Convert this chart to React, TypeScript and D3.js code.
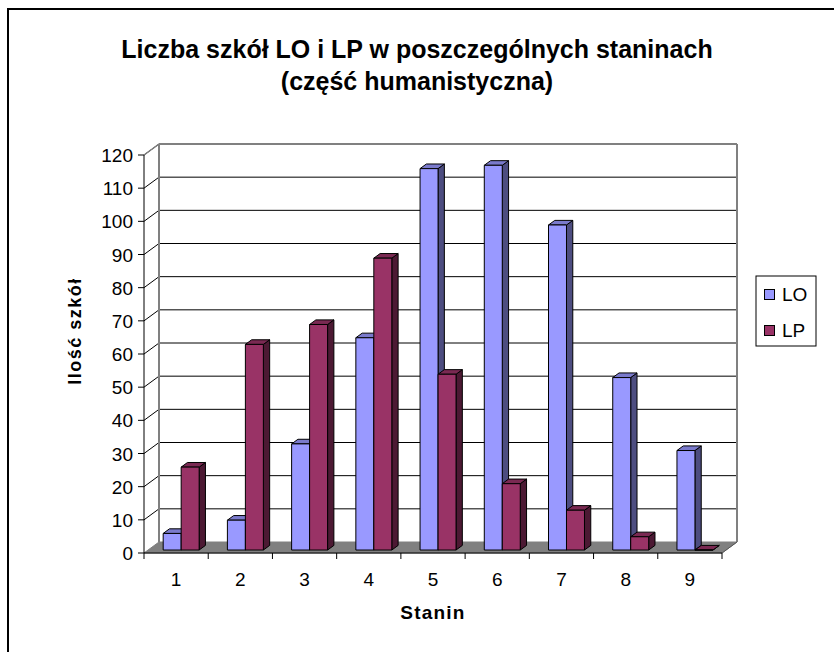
import React from "react";
import * as d3 from "d3";

const categories = ["1", "2", "3", "4", "5", "6", "7", "8", "9"];
const seriesNames = ["LO", "LP"];
const valuesLO = [5, 9, 32, 64, 115, 116, 98, 52, 30];
const valuesLP = [25, 62, 68, 88, 53, 20, 12, 4, 0];
const yTicks = [0, 10, 20, 30, 40, 50, 60, 70, 80, 90, 100, 110, 120];
const titleLines = ["Liczba szkół LO i LP w poszczególnych staninach", "(część humanistyczna)"];
const xTitle = "Stanin";
const yTitle = "Ilość szkół";

const colors = {
  LO: { front: "#9999FF", side: "#4D4D80", top: "#7A7ACC" },
  LP: { front: "#993366", side: "#4C1933", top: "#7A2952" },
};

const FONT = "Arial, 'Liberation Sans', sans-serif";

export default function App() {
  const W = 834, H = 652;
  const x0 = 144, x1 = 722;
  const DX = 15, DY = 11;
  const zf = 0.27, zb = 0.69;
  const y = d3.scaleLinear().domain([0, 120]).range([553, 155]);
  const x = d3.scaleBand<string>().domain(categories).range([x0, x1]).padding(0);
  const bw = x.bandwidth();
  const groupW = bw * 0.56;
  const xs = d3.scaleBand<string>().domain(seriesNames).range([(bw - groupW) / 2 + 1, (bw + groupW) / 2 + 1]).padding(0);

  const proj = (px: number, v: number, z: number): [number, number] => [px + z * DX, y(v) - z * DY];
  const poly = (pts: [number, number][]) => pts.map((p) => p.join(",")).join(" ");

  const data = [valuesLO, valuesLP];

  const bars: JSX.Element[] = [];
  categories.forEach((c, i) => {
    seriesNames.forEach((s, j) => {
      const v = data[j][i];
      const bx = (x(c) as number) + (xs(s) as number);
      const w = xs.bandwidth();
      const col = (colors as any)[s];
      const front = [proj(bx, 0, zf), proj(bx + w, 0, zf), proj(bx + w, v, zf), proj(bx, v, zf)] as [number, number][];
      const top = [proj(bx, v, zf), proj(bx + w, v, zf), proj(bx + w, v, zb), proj(bx, v, zb)] as [number, number][];
      const side = [proj(bx + w, 0, zf), proj(bx + w, v, zf), proj(bx + w, v, zb), proj(bx + w, 0, zb)] as [number, number][];
      bars.push(
        <g key={c + s}>
          <polygon points={poly(side)} fill={col.side} stroke="#000" strokeWidth={1} strokeLinejoin="round" />
          <polygon points={poly(top)} fill={col.top} stroke="#000" strokeWidth={1} strokeLinejoin="round" />
          <polygon points={poly(front)} fill={col.front} stroke="#000" strokeWidth={1} strokeLinejoin="round" />
        </g>
      );
    });
  });

  const floor = [proj(x0, 0, 0), proj(x1, 0, 0), proj(x1, 0, 1), proj(x0, 0, 1)] as [number, number][];
  const xBoundaries = [...categories.map((c) => x(c) as number), x1];

  return (
    <svg width={W} height={H} style={{ position: "absolute", left: 0, top: 0, background: "#fff" }} fontFamily={FONT}>
      <rect x={0} y={0} width={W} height={H} fill="#fff" />
      <rect x={8} y={9} width={W + 20} height={H + 20} fill="none" stroke="#000" strokeWidth={2} />
      {/* titles */}
      <text x={417} y={58} textAnchor="middle" fontSize={25} fontWeight="bold" fill="#000">{titleLines[0]}</text>
      <text x={417} y={90} textAnchor="middle" fontSize={25} fontWeight="bold" fill="#000">{titleLines[1]}</text>
      {/* floor */}
      <polygon points={poly(floor)} fill="#808080" stroke="#808080" strokeWidth={1} />
      {/* gridlines */}
      {yTicks.map((t) => {
        const a = proj(x0, t, 0), b = proj(x0, t, 1), c2 = proj(x1, t, 1);
        return (
          <g key={"g" + t}>
            {t > 0 && <line x1={a[0]} y1={a[1]} x2={b[0]} y2={b[1]} stroke="#000" strokeWidth={1} />}
            {t > 0 && t < 120 && <line x1={b[0]} y1={b[1]} x2={c2[0]} y2={c2[1]} stroke="#000" strokeWidth={1} />}
          </g>
        );
      })}
      {/* walls edges */}
      {(() => {
        const lb0 = proj(x0, 0, 1), lbT = proj(x0, 120, 1), rb0 = proj(x1, 0, 1), rbT = proj(x1, 120, 1);
        const lfT = proj(x0, 120, 0), rf0 = proj(x1, 0, 0);
        return (
          <g stroke="#808080" strokeWidth={2} fill="none">
            <line x1={lb0[0]} y1={lb0[1]} x2={lbT[0]} y2={lbT[1]} />
            <line x1={lbT[0]} y1={lbT[1]} x2={rbT[0]} y2={rbT[1]} />
            <line x1={rbT[0]} y1={rbT[1]} x2={rb0[0]} y2={rb0[1]} />
            <line x1={lfT[0]} y1={lfT[1]} x2={lbT[0]} y2={lbT[1]} strokeWidth={1.5} />
            <line x1={rf0[0]} y1={rf0[1]} x2={rb0[0]} y2={rb0[1]} stroke="#555" strokeWidth={1} />
          </g>
        );
      })()}
      {/* bars */}
      {bars}
      {/* axes */}
      <line x1={x0} y1={y(0)} x2={x0} y2={y(120)} stroke="#000" strokeWidth={1} />
      <line x1={x0} y1={y(0)} x2={x1} y2={y(0)} stroke="#000" strokeWidth={1} />
      {yTicks.map((t) => (
        <g key={"yt" + t}>
          <line x1={x0 - 6} y1={y(t)} x2={x0} y2={y(t)} stroke="#000" strokeWidth={1} />
          <text x={133} y={y(t) + 7} textAnchor="end" fontSize={19} fill="#000">{t}</text>
        </g>
      ))}
      {xBoundaries.map((bx, i) => (
        <line key={"xt" + i} x1={bx} y1={y(0)} x2={bx} y2={y(0) + 6} stroke="#000" strokeWidth={1} />
      ))}
      {categories.map((c) => (
        <text key={"xl" + c} x={(x(c) as number) + bw / 2} y={586} textAnchor="middle" fontSize={19} fill="#000">{c}</text>
      ))}
      <text x={433} y={619} textAnchor="middle" fontSize={19} fontWeight="bold" letterSpacing={1.2} fill="#000">{xTitle}</text>
      <text transform="translate(81,331) rotate(-90)" textAnchor="middle" fontSize={18} fontWeight="bold" letterSpacing={1.5} fill="#000">{yTitle}</text>
      {/* legend */}
      <rect x={756} y={276} width={60} height={70} fill="#fff" stroke="#000" strokeWidth={1} />
      {seriesNames.map((s, i) => (
        <g key={"lg" + s}>
          <rect x={764.5} y={289.5 + i * 36} width={10} height={10} fill={(colors as any)[s].front} stroke="#000" strokeWidth={1} />
          <text x={782} y={301 + i * 36} fontSize={19} fill="#000">{s}</text>
        </g>
      ))}
    </svg>
  );
}
